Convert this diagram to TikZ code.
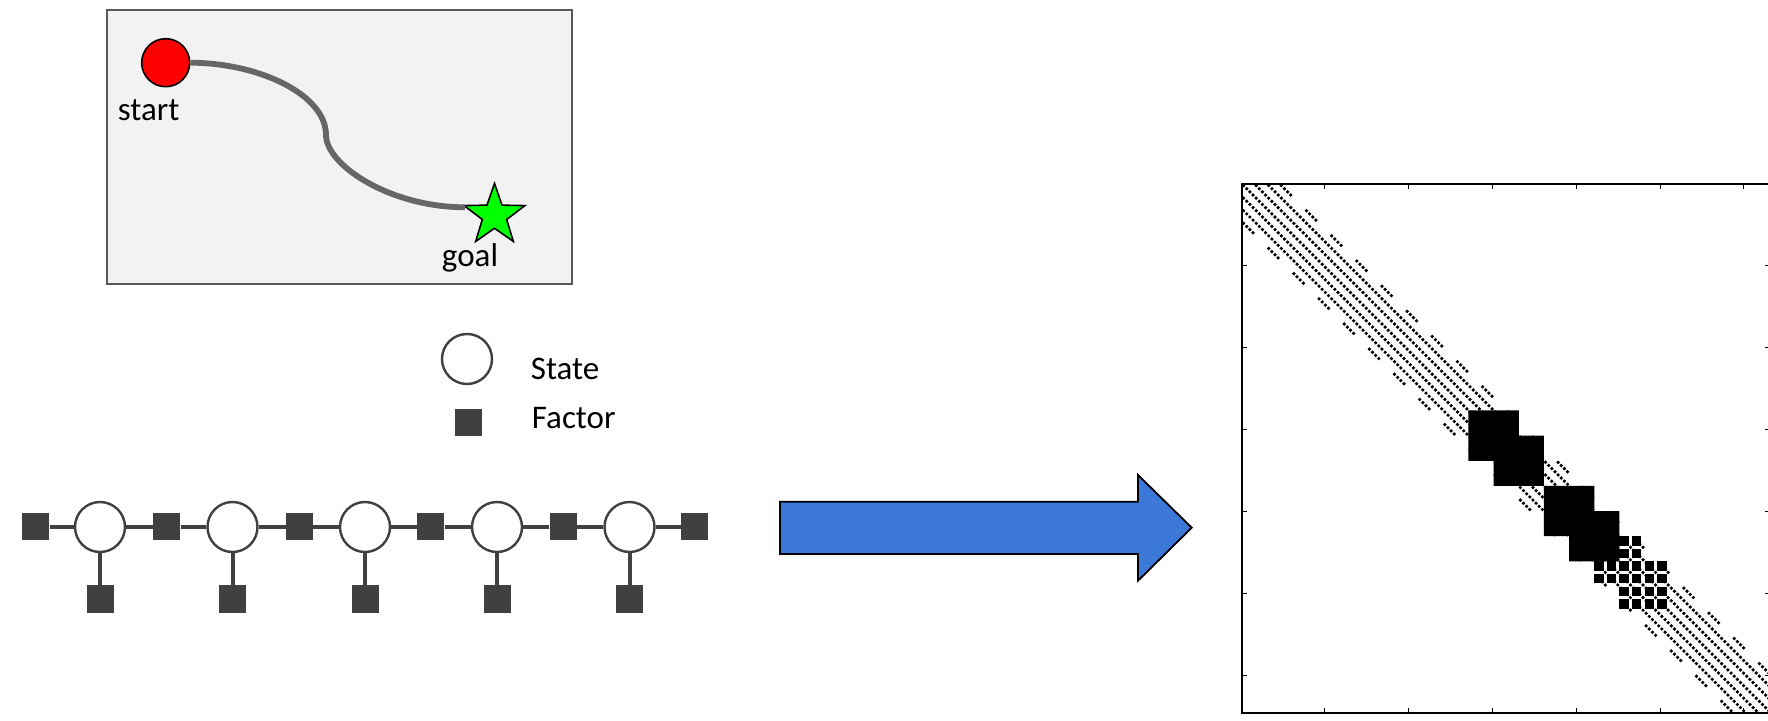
\documentclass[tikz,border=0pt]{standalone}
\usepackage{fontspec}
\setmainfont{Carlito}
\usetikzlibrary{shapes.geometric}
\definecolor{fgray}{HTML}{404040}
\definecolor{boxfill}{HTML}{F2F2F2}
\definecolor{boxdraw}{HTML}{595959}
\definecolor{pathgray}{HTML}{666666}
\definecolor{arrowblue}{HTML}{3C78D8}
\definecolor{stargreen}{HTML}{00FF00}
\begin{document}
\begin{tikzpicture}[x=0.5pt,y=-0.5pt,
  fac/.style={rectangle, fill=fgray, draw=none, minimum size=13.5pt, inner sep=0pt},
  st/.style={circle, draw=fgray, line width=1.2pt, fill=white, minimum size=25pt, inner sep=0pt},
  lnk/.style={draw=fgray, line width=2pt},
  lbl/.style={font=\fontsize{16.5pt}{19pt}\selectfont, inner sep=0pt},
]
\useasboundingbox (0,0) rectangle (1768,721);
\fill[white] (0,0) rectangle (1768,721);

% ---------- environment box ----------
\node[rectangle, draw=boxdraw, fill=boxfill, line width=1.1pt, minimum width=232.5pt, minimum height=137pt, inner sep=0pt] (env) at (339.5,147) {};
\node[circle, draw=black, fill=red, line width=0.8pt, minimum size=24pt, inner sep=0pt] (start) at (165.7,62.7) {};
\node[star, star points=5, star point ratio=2.5, draw=black, fill=stargreen, line width=0.8pt, minimum size=32pt, inner sep=0pt] (goal) at (494.5,215.5) {};
\coordinate (mid) at (326,135);
\coordinate (pathend) at (465,207.3);
\draw[pathgray, line width=2.9pt] (start.east) .. controls (260,63) and (326,95) .. (mid) .. controls (326,165) and (390,207.3) .. (pathend);
\node[lbl] (startlbl) at (148.7,109.7) {start};
\node[lbl] (goallbl) at (470,257.5) {goal};

% ---------- legend ----------
\node[st] (legstate) at (467,359) {};
\node[fac] (legfac) at (468,423) {};
\node[lbl, anchor=west] (legstatelbl) at (530.5,368.7) {State};
\node[lbl, anchor=west] (legfaclbl) at (531.5,418.3) {Factor};

% ---------- factor graph chain ----------
\foreach \k/\x in {1/100,2/232.5,3/365,4/497,5/629.5} {
  \node[st] (s\k) at (\x,527) {};
  \node[fac] (u\k) at (\x,599) {};
  \draw[lnk] (s\k) -- (u\k);
}
\foreach \k/\x in {0/35.6,1/166.7,2/299.4,3/430.7,4/563,5/694.7} {
  \node[fac] (f\k) at (\x,527) {};
}
\foreach \a/\b in {f0/s1,s1/f1,f1/s2,s2/f2,f2/s3,s3/f3,f3/s4,s4/f4,f4/s5,s5/f5} {
  \draw[lnk] (\a) -- (\b);
}

% ---------- block arrow ----------
\filldraw[fill=arrowblue, draw=black, line width=0.9pt, line join=miter]
  (780,501.7) -- (1138,501.7) -- (1138,475) -- (1191.7,527.7) -- (1138,580.7) -- (1138,554) -- (780,554) -- cycle;

% ---------- sparsity pattern (168 x 168, state blocks of 8) ----------
\begin{scope}
\clip (0,0) rectangle (1768,721);
\def\cs{3.145}
\def\mk{1.85}
% banded entries: i = j (mod 4), neighbouring state blocks
\foreach \i in {0,...,167} {
  \pgfmathtruncatemacro\bi{floor(\i/8)}
  \foreach \o in {-12,-8,...,12} {
    \pgfmathtruncatemacro\j{\i+\o}
    \pgfmathtruncatemacro\bj{floor(\j/8)}
    \pgfmathtruncatemacro\ok{and(and(\j>=0,\j<168),abs(\bi-\bj)<=1)}
    \ifnum\ok=1
      \fill ({1242+(\j+0.5)*\cs},{184+(\i+0.5)*\cs}) circle[radius=\mk];
    \fi
  }
}
% partially dense coupling of states 14-16
\def\sq{1.5}
\foreach \gi in {28,...,33} {
  \foreach \gj in {28,...,33} {
    \pgfmathtruncatemacro\bi{floor(\gi/2)}
    \pgfmathtruncatemacro\bj{floor(\gj/2)}
    \pgfmathtruncatemacro\ok{and(or(\bi>=15,\bj>=15),abs(\bi-\bj)<=1)}
    \ifnum\ok=1
      \fill ({1242+(4*\gj+0.5)*\cs-\sq},{184+(4*\gi+0.5)*\cs-\sq}) rectangle ({1242+(4*\gj+2.5)*\cs+\sq},{184+(4*\gi+2.5)*\cs+\sq});
    \fi
  }
}
% dense blocks (interpolated collision factors)
\fill ({1242+72*\cs},{184+72*\cs}) -- ({1242+88*\cs},{184+72*\cs}) -- ({1242+88*\cs},{184+80*\cs}) -- ({1242+96*\cs},{184+80*\cs}) -- ({1242+96*\cs},{184+96*\cs}) -- ({1242+80*\cs},{184+96*\cs}) -- ({1242+80*\cs},{184+88*\cs}) -- ({1242+72*\cs},{184+88*\cs}) -- cycle;
\fill ({1242+96*\cs},{184+96*\cs}) -- ({1242+112*\cs},{184+96*\cs}) -- ({1242+112*\cs},{184+104*\cs}) -- ({1242+120*\cs},{184+104*\cs}) -- ({1242+120*\cs},{184+120*\cs}) -- ({1242+104*\cs},{184+120*\cs}) -- ({1242+104*\cs},{184+112*\cs}) -- ({1242+96*\cs},{184+112*\cs}) -- cycle;
% axes box and ticks
\draw[line width=1.4pt] (1242,184) rectangle (1770,713);
\foreach \t in {0,...,5} {
  \draw[line width=0.5pt] ({1324.4+83.9*\t},184) -- ++(0,5);
  \draw[line width=0.5pt] ({1324.4+83.9*\t},713) -- ++(0,-5);
  \draw[line width=0.5pt] (1242,{265.9+81.9*\t}) -- ++(5,0);
  \draw[line width=0.5pt] (1770,{265.9+81.9*\t}) -- ++(-5,0);
}
\end{scope}
\end{tikzpicture}
\end{document}
